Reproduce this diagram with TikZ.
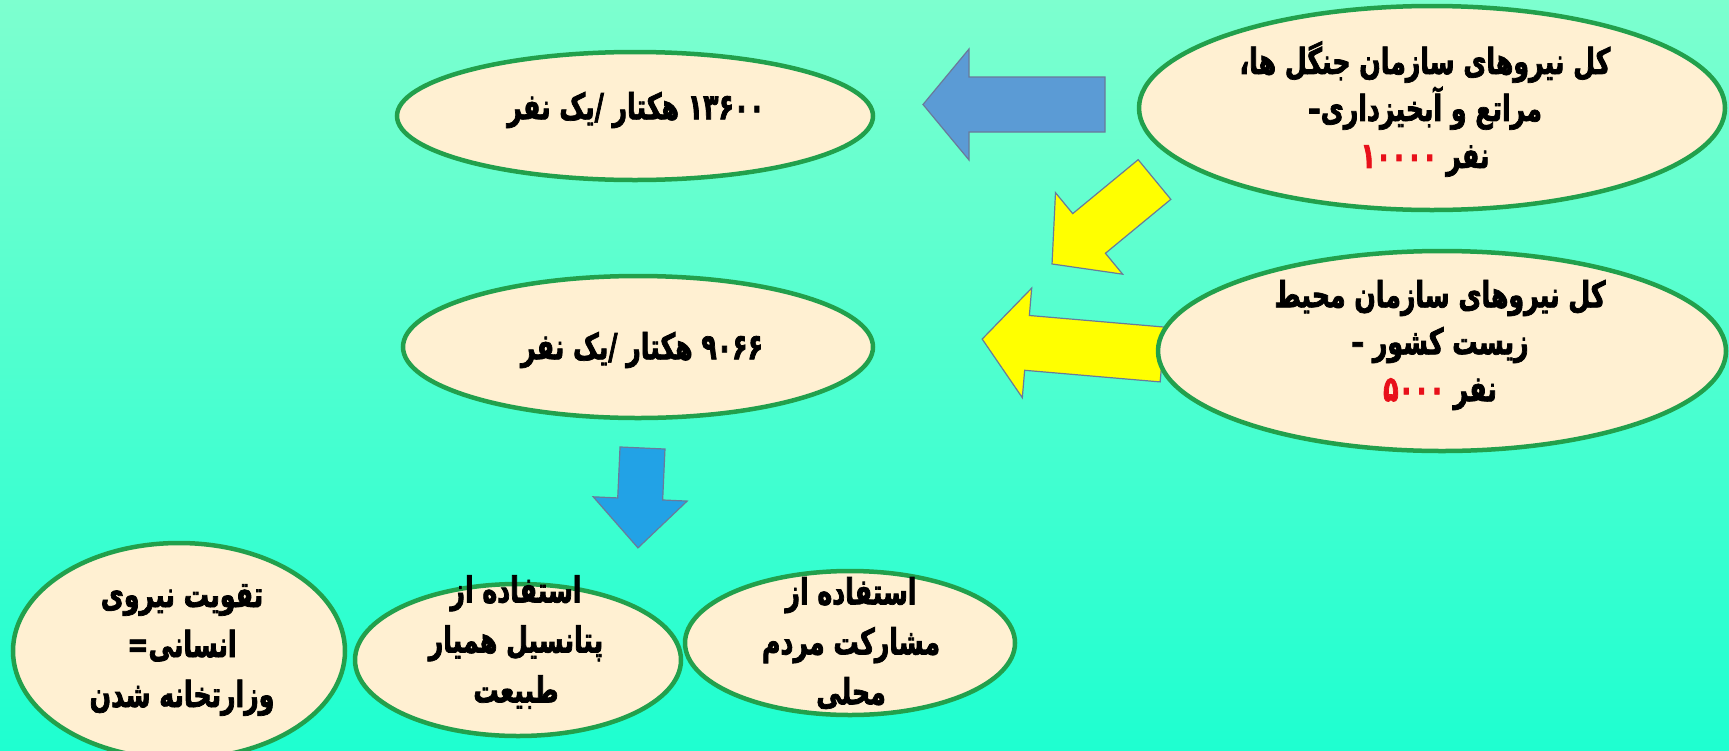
\documentclass[tikz,border=0pt]{standalone}
\usepackage{fontspec}
\usetikzlibrary{shapes.geometric}
\newfontfamily\fa[Script=Arabic,FakeStretch=0.7,FakeBold=2]{DejaVu Sans Bold}
\TeXXeTstate=1
\definecolor{bgtop}{HTML}{7DFFCF}
\definecolor{bgbot}{HTML}{1EFFD0}
\definecolor{ellfill}{HTML}{FFF0D2}
\definecolor{elldraw}{HTML}{22A04C}
\definecolor{arrblue}{HTML}{5B9BD5}
\definecolor{arrcyan}{HTML}{22A2E6}
\definecolor{arryel}{HTML}{FFFF00}
\definecolor{arredge}{HTML}{6A7A9A}
\definecolor{numred}{HTML}{E8101A}
\begin{document}
\begin{tikzpicture}[x=1pt,y=-1pt,
  ell/.style={ellipse, draw=elldraw, fill=ellfill, line width=4.5pt, inner sep=0pt},
  txt/.style={font=\fa\fontsize{36}{47}\selectfont, align=center, inner sep=0pt},
  txtb/.style={font=\fa\fontsize{36}{50}\selectfont, align=center, inner sep=0pt},
  blockarr/.style={draw=arredge, line width=1.2pt, line join=miter}]
\shade[top color=bgtop,bottom color=bgbot] (0,0) rectangle (1729,750);
\useasboundingbox (0,0) rectangle (1729,750);

% block arrows
\begin{scope}[shift={(1105,104.5)}, rotate=180]
  \draw[blockarr, fill=arrblue] (0,-27.5) -- (136,-27.5) -- (136,-55.5) -- (182,0) -- (136,55.5) -- (136,27.5) -- (0,27.5) -- cycle;
\end{scope}
\begin{scope}[shift={(1154.5,179.5)}, rotate=219.5]
  \draw[blockarr, fill=arryel] (0,-25.7) -- (84.8,-25.7) -- (84.8,-52.8) -- (132.8,0) -- (84.8,52.8) -- (84.8,25.7) -- (0,25.7) -- cycle;
\end{scope}
\begin{scope}[shift={(1162.5,354.5)}, rotate=175.1]
  \draw[blockarr, fill=arryel] (0,-27.5) -- (136,-27.5) -- (136,-55) -- (181,0) -- (136,55) -- (136,27.5) -- (0,27.5) -- cycle;
\end{scope}
\begin{scope}[shift={(642.5,448)}, rotate=267.4]
  \draw[blockarr, fill=arrcyan] (0,-22.5) -- (51,-22.5) -- (51,-47) -- (100,0) -- (51,47) -- (51,22.5) -- (0,22.5) -- cycle;
\end{scope}

% ellipses
\node[ell, minimum width=586pt, minimum height=204pt] (ea) at (1432,108) {};
\node[ell, minimum width=568pt, minimum height=200pt] (eb) at (1442,351) {};
\node[ell, minimum width=476pt, minimum height=128pt] (ec) at (635,116) {};
\node[ell, minimum width=470pt, minimum height=142pt] (ed) at (638,347) {};
\node[ell, minimum width=330pt, minimum height=144pt] (ee) at (850,643) {};
\node[ell, minimum width=326pt, minimum height=152pt] (ef) at (518,660) {};
\node[ell, minimum width=332pt, minimum height=216pt] (eg) at (179,651) {};

% texts
\node[txt] (ta) at (1425,109) {\beginR کل نیروهای سازمان جنگل ها،\endR\\\beginR مراتع و آبخیزداری–\endR\\{\color{numred}۱۰۰۰۰} نفر};
\node[txt] (tb) at (1440,345) {\beginR کل نیروهای سازمان محیط\endR\\\beginR زیست کشور –\endR\\{\color{numred}۵۰۰۰} نفر};
\node[txt] (tc) at (636,110) {\beginR ۱۳۶۰۰ هکتار /یک نفر\endR};
\node[txt] (td) at (642,350) {\beginR ۹۰۶۶ هکتار /یک نفر\endR};
\node[txtb] (te) at (851,643) {\beginR استفاده از\endR\\\beginR مشارکت مردم\endR\\\beginR محلی\endR};
\node[txtb] (tf) at (516,642) {\beginR استفاده از\endR\\\beginR پتانسیل همیار\endR\\\beginR طبیعت\endR};
\node[txtb] (tg) at (182,650) {\beginR تقویت نیروی\endR\\\beginR انسانی=\endR\\\beginR وزارتخانه شدن\endR};
\end{tikzpicture}
\end{document}
